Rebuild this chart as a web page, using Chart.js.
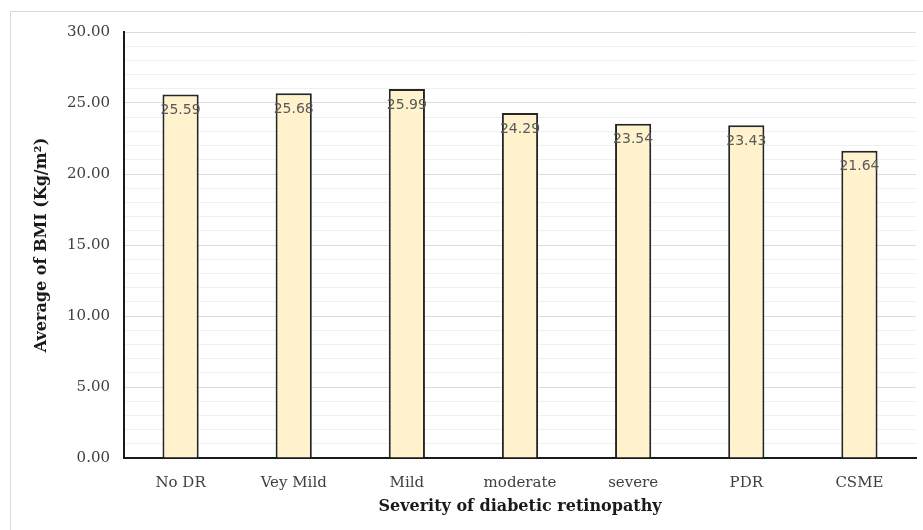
<!DOCTYPE html>
<html>
<head>
<meta charset="utf-8">
<script src="https://cdn.jsdelivr.net/npm/chart.js@4"></script>
<style>
    html, body { margin: 0; padding: 0; background: #fff; }
    #wrap { position: relative; width: 923px; height: 530px; overflow: hidden; }
    #frame { position: absolute; left: 10px; top: 11px; width: 940px; height: 560px; border: 1px solid #d9d9d9; pointer-events: none; }
    canvas { position: absolute; left: 0; top: 0; }
</style>
</head>
<body>
<div id="wrap">
    <div id="frame"></div>
    <canvas id="bmiChart" width="923" height="530"></canvas>
</div>
<script>
const categories = ['No DR', 'Vey Mild', 'Mild', 'moderate', 'severe', 'PDR', 'CSME'];
const avgBmi = [25.59, 25.68, 25.99, 24.29, 23.54, 23.43, 21.64];
const yTicks = [0, 5, 10, 15, 20, 25, 30];

// writes each bar's value just under its top edge
const valueLabels = {
    id: 'valueLabels',
    afterDatasetsDraw(chart) {
        const ctx = chart.ctx;
        const meta = chart.getDatasetMeta(0);
        ctx.save();
        ctx.font = '14px "DejaVu Sans"';
        ctx.fillStyle = '#595959';
        ctx.textAlign = 'center';
        ctx.textBaseline = 'middle';
        meta.data.forEach((bar, i) => {
            ctx.fillText(avgBmi[i].toFixed(2), bar.x, bar.y + 16);
        });
        ctx.restore();
    }
};

const ctx = document.getElementById('bmiChart').getContext('2d');
new Chart(ctx, {
    type: 'bar',
    data: {
        labels: categories,
        datasets: [{
            data: avgBmi,
            backgroundColor: '#fff2cc',
            borderColor: '#262626',
            borderWidth: 2,
            borderSkipped: 'bottom',
            barPercentage: 0.32,
            categoryPercentage: 1
        }]
    },
    options: {
        responsive: false,
        animation: false,
        layout: { padding: { top: 32, right: 7, left: 32, bottom: 14 } },
        plugins: { legend: { display: false }, tooltip: { enabled: false } },
        scales: {
            x: {
                grid: { display: false },
                border: { color: '#1a1a1a', width: 2 },
                ticks: { color: '#404040', font: { family: 'DejaVu Serif', size: 15 }, padding: 8 },
                title: {
                    display: true,
                    text: 'Severity of diabetic retinopathy',
                    color: '#1a1a1a',
                    font: { family: 'DejaVu Serif', size: 16, weight: 'bold' },
                    padding: { top: 4, bottom: 0 }
                },
                afterFit(scale) { scale.height = 58; }
            },
            y: {
                min: 0,
                max: 30,
                border: { color: '#1a1a1a', width: 2 },
                grid: {
                    drawTicks: false,
                    color: c => yTicks.includes(c.tick.value) ? '#dcdcdc' : '#f0f0f0',
                    lineWidth: 1
                },
                ticks: {
                    stepSize: 1,
                    autoSkip: false,
                    padding: 14,
                    color: '#404040',
                    font: { family: 'DejaVu Serif', size: 15 },
                    callback: v => yTicks.includes(v) ? v.toFixed(2) : ''
                },
                title: {
                    display: true,
                    text: 'Average of BMI (Kg/m²)',
                    color: '#1a1a1a',
                    font: { family: 'DejaVu Serif', size: 16, weight: 'bold' },
                    padding: { top: 0, bottom: 8 }
                },
                afterFit(scale) { scale.width = 92; }
            }
        }
    },
    plugins: [valueLabels]
});
</script>
</body>
</html>
